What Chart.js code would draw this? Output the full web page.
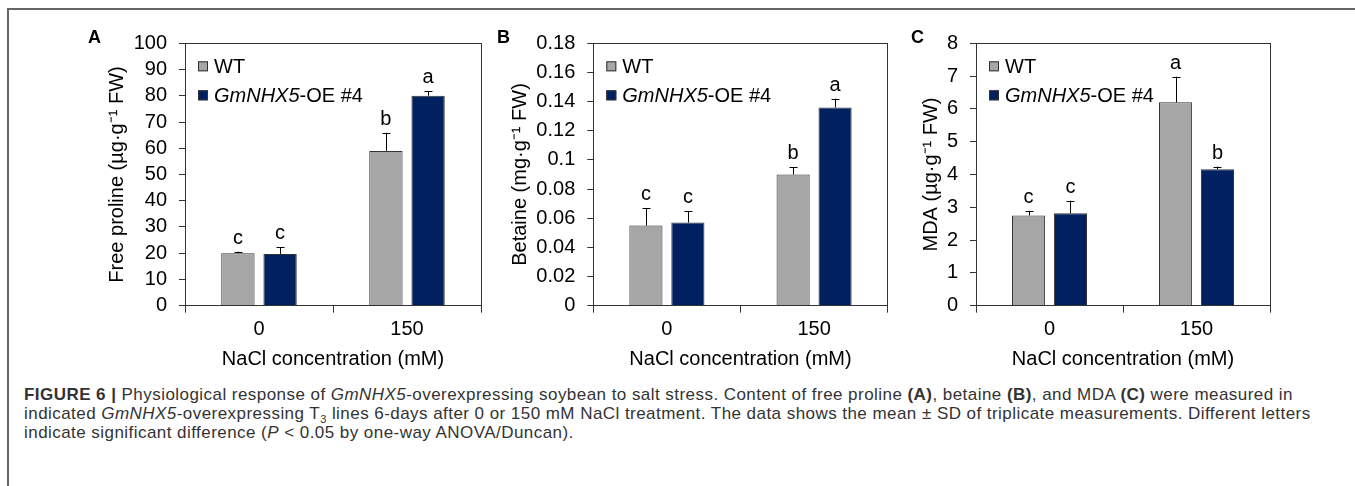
<!DOCTYPE html>
<html>
<head>
<meta charset="utf-8">
<script src="https://cdn.jsdelivr.net/npm/chart.js@4.4.1/dist/chart.umd.min.js"></script>
<style>
  body { margin: 0; background: #fff; width: 1355px; height: 486px; overflow: hidden; position: relative; font-family: "Liberation Sans", Arial, sans-serif; }
  .frame { position: absolute; left: 7px; top: 8px; width: 1360px; height: 500px; border-top: 2px solid #666; border-left: 2px solid #666; }
  canvas { position: absolute; left: 0; top: 0; }
  .panel { position: absolute; top: 28px; font: bold 18px/18px "Liberation Sans", Arial, sans-serif; color: #000; }
  .caption { position: absolute; left: 24px; top: 385px; font-size: 17px; line-height: 19px; letter-spacing: 0.45px; color: #333; white-space: nowrap; }
  .caption sub { font-size: 11px; line-height: 0; }
</style>
</head>
<body>
<div class="frame"></div>
<canvas id="chartA" width="1355" height="371"></canvas>
<canvas id="chartB" width="1355" height="371"></canvas>
<canvas id="chartC" width="1355" height="371"></canvas>
<div class="panel" style="left:88px">A</div>
<div class="panel" style="left:497px">B</div>
<div class="panel" style="left:911px">C</div>
<div class="caption">
<b>FIGURE 6 |</b> Physiological response of <i>GmNHX5</i>-overexpressing soybean to salt stress. Content of free proline <b>(A)</b>, betaine <b>(B)</b>, and MDA <b>(C)</b> were measured in<br>
indicated <i>GmNHX5</i>-overexpressing T<sub>3</sub> lines 6-days after 0 or 150 mM NaCl treatment. The data shows the mean ± SD of triplicate measurements. Different letters<br>
indicate significant difference (<i>P</i> &lt; 0.05 by one-way ANOVA/Duncan).
</div>
<script>
// categories and series
const nacl = ['0', '150'];
const seriesNames = [[['WT', false]], [['GmNHX5', true], ['-OE #4', false]]];

// A - free proline
const prolineWT = [20.0, 59.0];
const prolineOE = [19.7, 80.0];
const prolineWTsd = [0.6, 6.9];
const prolineOEsd = [2.6, 1.7];
const prolineWTlet = ['c', 'b'];
const prolineOElet = ['c', 'a'];
const prolineTicks = ['0', '10', '20', '30', '40', '50', '60', '70', '80', '90', '100'];

// B - betaine
const betaineWT = [0.055, 0.090];
const betaineOE = [0.057, 0.136];
const betaineWTsd = [0.012, 0.005];
const betaineOEsd = [0.008, 0.006];
const betaineWTlet = ['c', 'b'];
const betaineOElet = ['c', 'a'];
const betaineTicks = ['0', '0.02', '0.04', '0.06', '0.08', '0.1', '0.12', '0.14', '0.16', '0.18'];

// C - MDA
const mdaWT = [2.75, 6.2];
const mdaOE = [2.82, 4.16];
const mdaWTsd = [0.14, 0.78];
const mdaOEsd = [0.38, 0.08];
const mdaWTlet = ['c', 'a'];
const mdaOElet = ['c', 'b'];
const mdaTicks = ['0', '1', '2', '3', '4', '5', '6', '7', '8'];

const FONT = '"Liberation Sans", Arial, sans-serif';
const FS = 20;
const LH = FS * 1.2;

// box around plot, error bars, letters and legend inside the plot
const extras = {
  id: 'extras',
  afterDatasetsDraw(chart) {
    const ctx = chart.ctx;
    const area = chart.chartArea;
    const y = chart.scales.y;
    ctx.save();
    ctx.strokeStyle = '#333';
    ctx.lineWidth = 1;
    ctx.strokeRect(Math.round(area.left) + 0.5, Math.round(area.top) + 0.5,
      Math.round(area.right - area.left), Math.round(area.bottom - area.top));

    chart.data.datasets.forEach((ds, i) => {
      const meta = chart.getDatasetMeta(i);
      meta.data.forEach((bar, j) => {
        const top = y.getPixelForValue(ds.data[j] + ds.sd[j]);
        const x = Math.round(bar.x) + 0.5;
        ctx.strokeStyle = '#000';
        ctx.beginPath();
        ctx.moveTo(x, bar.y);
        ctx.lineTo(x, top);
        ctx.moveTo(x - 4, Math.round(top) + 0.5);
        ctx.lineTo(x + 4, Math.round(top) + 0.5);
        ctx.stroke();
        ctx.fillStyle = '#000';
        ctx.font = FS + 'px ' + FONT;
        ctx.textAlign = 'center';
        ctx.textBaseline = 'alphabetic';
        ctx.fillText(ds.letters[j], bar.x, top - 8);
      });
    });

    // legend
    chart.data.datasets.forEach((ds, i) => {
      const bx = area.left + 13;
      const cy = area.top + 23 + i * 29;
      ctx.fillStyle = ds.backgroundColor;
      ctx.fillRect(bx, cy - 5, 10, 10);
      ctx.strokeStyle = '#333';
      ctx.strokeRect(bx + 0.5, cy - 4.5, 9, 9);
      let tx = bx + 16;
      ctx.fillStyle = '#000';
      ctx.textAlign = 'left';
      ctx.textBaseline = 'middle';
      seriesNames[i].forEach(([txt, it]) => {
        ctx.font = (it ? 'italic ' : '') + FS + 'px ' + FONT;
        ctx.fillText(txt, tx, cy + 1);
        tx += ctx.measureText(txt).width;
      });
    });
    ctx.restore();
  }
};

function makePanel(id, wt, oe, wtSd, oeSd, wtLet, oeLet, ticks, max, step, yTitle, titleX, axisX, plotRight) {
  const padLeft = titleX - LH / 2;
  return new Chart(document.getElementById(id), {
    type: 'bar',
    data: {
      labels: nacl,
      datasets: [
        { label: 'WT', data: wt, sd: wtSd, letters: wtLet, backgroundColor: '#a6a6a6', borderColor: '#333', borderWidth: 1 },
        { label: 'GmNHX5-OE #4', data: oe, sd: oeSd, letters: oeLet, backgroundColor: '#002060', borderColor: '#333', borderWidth: 1 }
      ]
    },
    options: {
      responsive: false,
      animation: false,
      categoryPercentage: 0.57,
      barPercentage: 0.79,
      layout: { padding: { left: padLeft, right: 1355 - plotRight, top: 43.3, bottom: 0 } },
      plugins: { legend: { display: false }, tooltip: { enabled: false } },
      scales: {
        x: {
          grid: { drawOnChartArea: false, tickLength: 7, color: '#333' },
          border: { color: '#333' },
          ticks: { color: '#000', font: { family: FONT, size: FS }, padding: 5 },
          title: { display: true, text: 'NaCl concentration (mM)', color: '#000', font: { family: FONT, size: FS }, padding: 0 },
          afterFit: (s) => { s.height = 371 - 305.7; }
        },
        y: {
          min: 0,
          max: max,
          ticks: { stepSize: step, autoSkip: false, color: '#000', font: { family: FONT, size: FS }, padding: 12,
            callback: (v, i) => ticks[i] },
          grid: { drawOnChartArea: false, tickLength: 6, color: '#333' },
          border: { color: '#333' },
          title: { display: true, text: yTitle, color: '#000', font: { family: FONT, size: FS }, padding: 0 },
          afterFit: (s) => { s.width = axisX - padLeft; }
        }
      }
    },
    plugins: [extras]
  });
}

makePanel('chartA', prolineWT, prolineOE, prolineWTsd, prolineOEsd, prolineWTlet, prolineOElet,
  prolineTicks, 100, 10, 'Free proline (µg·g⁻¹ FW)', 117, 185, 481);
makePanel('chartB', betaineWT, betaineOE, betaineWTsd, betaineOEsd, betaineWTlet, betaineOElet,
  betaineTicks, 0.18, 0.02, 'Betaine (mg·g⁻¹ FW)', 520, 593.3, 887.7);
makePanel('chartC', mdaWT, mdaOE, mdaWTsd, mdaOEsd, mdaWTlet, mdaOElet,
  mdaTicks, 8, 1, 'MDA (µg·g⁻¹ FW)', 931.7, 976, 1270);
</script>
</body>
</html>
